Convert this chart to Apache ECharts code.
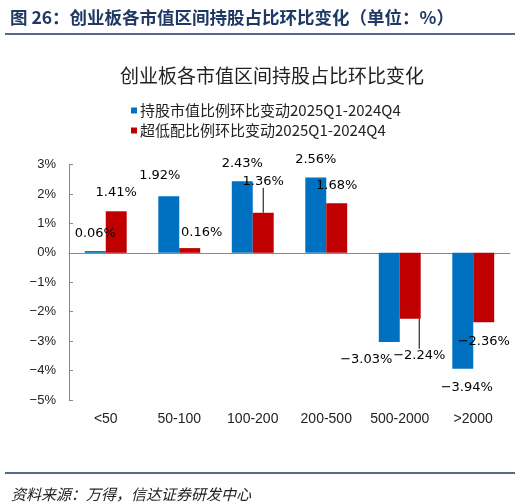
<!DOCTYPE html>
<html>
<head>
<meta charset="utf-8">
<script src="https://cdn.jsdelivr.net/npm/echarts@6/dist/echarts.min.js"></script>
<style>
  html, body { margin: 0; padding: 0; background: #fff; }
  #chart { width: 521px; height: 504px; }
</style>
</head>
<body>
<div id="chart"></div>
<script>
// 市值区间
var categories = ['<50', '50-100', '100-200', '200-500', '500-2000', '>2000'];
// 持股市值比例环比变动 (%)
var holdValues = [0.06, 1.92, 2.43, 2.56, -3.03, -3.94];
// 超低配比例环比变动 (%)
var overValues = [1.41, 0.16, 1.36, 1.68, -2.24, -2.36];
var seriesNames = ['持股市值比例环比变动2025Q1-2024Q4', '超低配比例环比变动2025Q1-2024Q4'];

// label nudges [dx, dy], per series
var labelShift = [
    [[0, 0], [-9, -3], [0, 0], [0, 0], [-23, 0], [4, 1]],
    [[0, -1], [12, 2], [0, -14], [0, 0], [9, 19], [0, 2]]
];
var withLine = [[], [2, 4]];

var navy = '#1F3864';
var chart = echarts.init(document.getElementById('chart'));

function makeData(vals, si) {
    return vals.map(function (v, i) {
        var item = {
            value: v,
            label: { position: v < 0 ? 'bottom' : 'top' }
        };
        if (withLine[si].indexOf(i) >= 0) {
            item.labelLine = { show: true, lineStyle: { color: '#000', width: 1 } };
        }
        return item;
    });
}

function barSeries(name, vals, si, color) {
    return {
        name: name,
        type: 'bar',
        xAxisIndex: 0,
        barGap: 0,
        barCategoryGap: '43%',
        itemStyle: { color: color },
        label: {
            show: true,
            distance: 11,
            formatter: function (p) { return p.value.toFixed(2).replace('-', '−') + '%'; },
            fontFamily: 'DejaVu Sans',
            fontSize: 13,
            color: '#000'
        },
        labelLine: { show: false },
        labelLayout: function (p) {
            var s = labelShift[si][p.dataIndex];
            return { dx: s[0], dy: s[1] };
        },
        data: makeData(vals, si)
    };
}

var option = {
    animation: false,
    backgroundColor: '#fff',
    title: [
        {
            text: '图 26：创业板各市值区间持股占比环比变化（单位：%）',
            left: 5, top: 4,
            textStyle: { color: navy, fontSize: 17.5, fontWeight: 'bold', fontFamily: 'Noto Sans CJK SC' }
        },
        {
            text: '创业板各市值区间持股占比环比变化',
            left: 267, top: 61, textAlign: 'center',
            textStyle: { color: '#222', fontSize: 19, fontWeight: 'normal', fontFamily: 'Noto Sans CJK SC' }
        },
        {
            text: '资料来源：万得，信达证券研发中心',
            left: 6, top: 482,
            textStyle: { color: '#222', fontSize: 15, fontWeight: 'normal', fontStyle: 'italic', fontFamily: 'Noto Sans CJK SC' }
        }
    ],
    graphic: [
        { type: 'line', shape: { x1: 5, y1: 34, x2: 515, y2: 34 }, style: { stroke: navy, lineWidth: 1.5 } },
        { type: 'line', shape: { x1: 5, y1: 473, x2: 515, y2: 473 }, style: { stroke: navy, lineWidth: 1.5 } }
    ],
    legend: {
        orient: 'vertical',
        left: 126, top: 98,
        itemWidth: 6, itemHeight: 6, itemGap: 5,
        icon: 'rect',
        textStyle: { color: '#222', fontSize: 15, fontFamily: 'Noto Sans CJK SC', padding: [0, 0, 0, -2] },
        data: seriesNames
    },
    grid: { left: 69, right: 11, top: 164.5, bottom: 104 },
    xAxis: [
        {
            type: 'category',
            data: categories,
            position: 'bottom',
            axisLine: { show: false, onZero: false },
            axisTick: { show: false },
            axisLabel: { interval: 0, margin: 12, fontSize: 14, color: '#222', fontFamily: 'Liberation Sans' }
        },
        {
            type: 'category',
            data: categories,
            position: 'bottom',
            axisLine: { onZero: true, lineStyle: { color: '#888', width: 1 } },
            axisTick: { inside: true, length: 4, lineStyle: { color: '#888' } },
            axisLabel: { show: false }
        }
    ],
    yAxis: {
        type: 'value',
        min: -5, max: 3, interval: 1,
        axisLine: { show: true, lineStyle: { color: '#888' } },
        axisTick: { show: true, inside: true, length: 4, lineStyle: { color: '#888' } },
        splitLine: { show: false },
        axisLabel: {
            margin: 13,
            fontSize: 13,
            color: '#222',
            fontFamily: 'Liberation Sans',
            formatter: function (v) { return String(v).replace('-', '−') + '%'; }
        }
    },
    series: [
        barSeries(seriesNames[0], holdValues, 0, '#0070C0'),
        barSeries(seriesNames[1], overValues, 1, '#C00000')
    ]
};
chart.setOption(option);
</script>
</body>
</html>
